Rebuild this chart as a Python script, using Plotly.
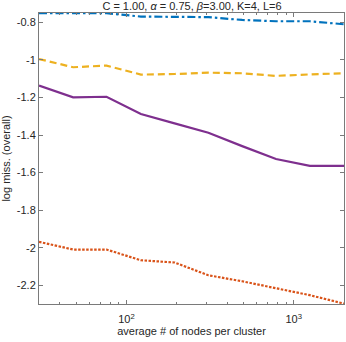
import plotly.graph_objects as go

nodes = [30, 48, 76, 122, 194, 309, 492, 784, 1250, 2000]
series_blue = [-0.751, -0.751, -0.751, -0.769, -0.772, -0.772, -0.787, -0.794, -0.794, -0.810]
series_orange = [-1.969, -2.010, -2.010, -2.067, -2.079, -2.147, -2.179, -2.218, -2.253, -2.298]
series_yellow = [-0.995, -1.039, -1.030, -1.078, -1.075, -1.068, -1.071, -1.085, -1.077, -1.071]
series_purple = [-1.137, -1.199, -1.196, -1.288, -1.338, -1.388, -1.459, -1.528, -1.564, -1.564]

y_ticks = [-2.2, -2.0, -1.8, -1.6, -1.4, -1.2, -1.0, -0.8]
y_tick_text = ["-2.2", "-2", "-1.8", "-1.6", "-1.4", "-1.2", "-1", "-0.8"]
x_ticks = [100, 1000]
x_tick_text = ["10<sup>2</sup>", "10<sup>3</sup>"]
x_minor = [30, 40, 50, 60, 70, 80, 90, 200, 300, 400, 500, 600, 700, 800, 900, 2000]

fig = go.Figure()
specs = [
    (series_blue, "#0072BD", "8px,3px,2.5px,3px"),
    (series_orange, "#D95319", "2.5px,1.5px"),
    (series_yellow, "#EDB120", "7px,4px"),
    (series_purple, "#7E2F8E", "solid"),
]
for ys, col, dash in specs:
    fig.add_trace(go.Scatter(x=nodes, y=ys, mode="lines",
                             line=dict(color=col, width=2.2, dash=dash),
                             showlegend=False))

axis_col = "#7a7a7a"
font = dict(family="Liberation Sans, Arial, sans-serif", size=11, color="#262626")
fig.update_layout(
    width=346, height=342,
    margin=dict(l=39, r=2, t=13, b=38, autoexpand=False),
    paper_bgcolor="white", plot_bgcolor="white",
    font=font,
    title=dict(text="C = 1.00, <i>α</i> = 0.75, <i>β</i>=3.00, K=4, L=6",
               x=0.555, xanchor="center", y=0.982, yanchor="middle",
               font=dict(size=11, color="#262626")),
    xaxis=dict(type="log", range=[1.477, 3.301], automargin=False,
               tickvals=x_ticks, ticktext=x_tick_text,
               ticks="inside", ticklen=4, tickcolor=axis_col,
               ticklabelstandoff=5,
               showline=True, linecolor=axis_col, linewidth=1, mirror="allticks",
               showgrid=False, zeroline=False,
               minor=dict(tickvals=x_minor, ticks="inside", ticklen=2,
                          tickcolor=axis_col, showgrid=False),
               title=dict(text="average # of nodes per cluster", standoff=3,
                          font=dict(size=11))),
    yaxis=dict(range=[-2.3, -0.75], automargin=False,
               tickvals=y_ticks, ticktext=y_tick_text,
               ticks="inside", ticklen=4, tickcolor=axis_col,
               showline=True, linecolor=axis_col, linewidth=1, mirror="allticks",
               showgrid=False, zeroline=False,
               title=dict(text="log miss. (overall)", standoff=4,
                          font=dict(size=11))),
)
fig.write_html("out.html", config={"displayModeBar": False},
               post_script="document.body.style.margin='0';")
